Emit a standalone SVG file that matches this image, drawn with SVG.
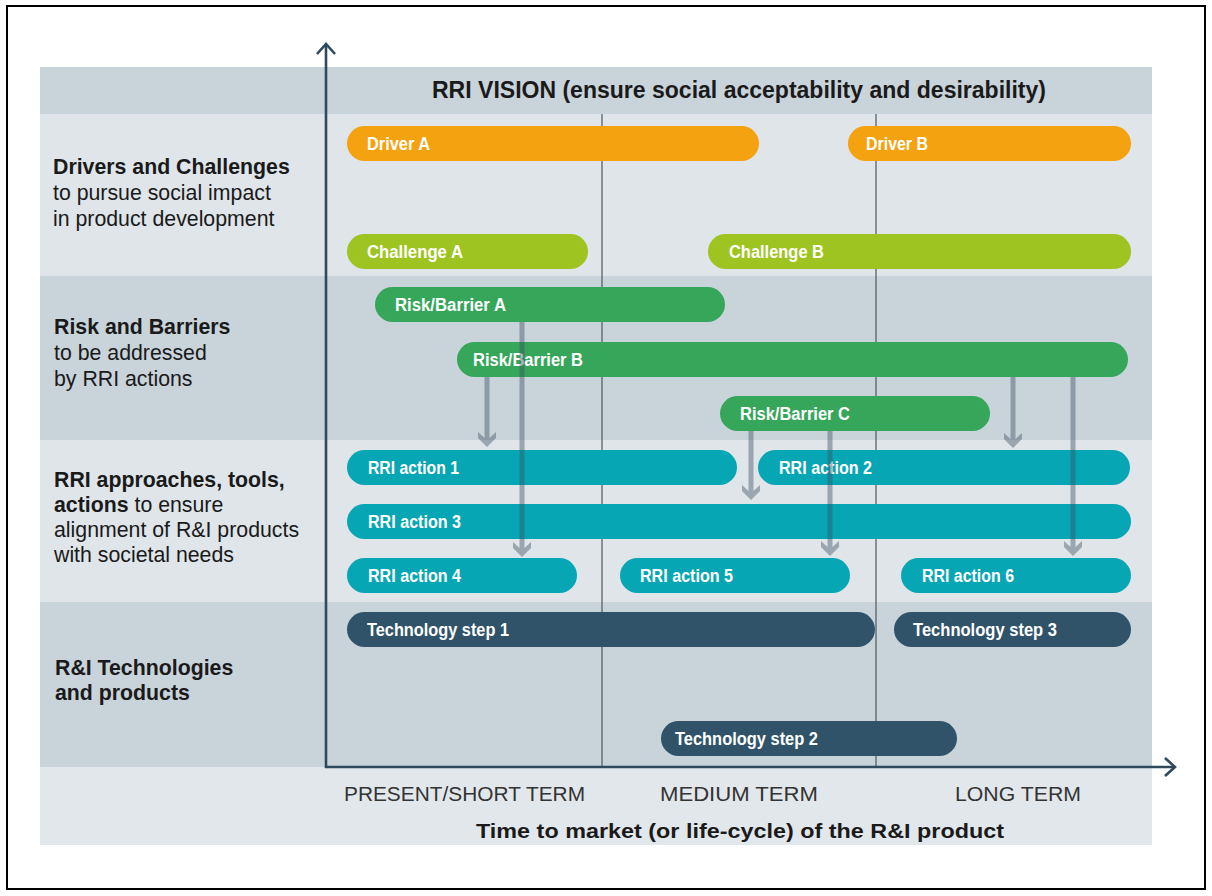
<svg xmlns="http://www.w3.org/2000/svg" width="1212" height="896" viewBox="0 0 1212 896">
<defs>
<style>
.bandD{fill:#c9d3da}
.bandL{fill:#dfe5e9}
.bar text{font-family:"Liberation Sans",Arial,sans-serif;font-weight:bold;font-size:18px;fill:#ffffff}
.drv{fill:#f4a20f}
.chl{fill:#9ec421}
.rsk{fill:#35a65a}
.rri{fill:#07a6b4}
.tec{fill:#30536a}
.lbl{font-family:"Liberation Sans",Arial,sans-serif;font-size:21.3px;fill:#1a1a1a}
.b{font-weight:bold}
.term{font-family:"Liberation Sans",Arial,sans-serif;font-size:20px;fill:#333333}
.div{stroke:#4d5861;stroke-width:1.2}
.axis{stroke:#2f4a5c;stroke-width:2.6;fill:none}
.arr{fill:#394f5f;fill-opacity:0.42}
</style>
</defs>
<rect x="0" y="0" width="1212" height="896" fill="#ffffff"/>
<rect x="7" y="6" width="1198" height="883" fill="none" stroke="#000000" stroke-width="2"/>

<g id="bands">
<rect class="bandD" x="40" y="67" width="1112" height="47"/>
<rect class="bandL" x="40" y="114" width="1112" height="162"/>
<rect class="bandD" x="40" y="276" width="1112" height="164"/>
<rect class="bandL" x="40" y="440" width="1112" height="162"/>
<rect class="bandD" x="40" y="602" width="1112" height="165"/>
<rect fill="#e2e7eb" x="40" y="767" width="1112" height="78"/>
</g>

<g id="dividers">
<line class="div" x1="602" y1="114" x2="602" y2="767"/>
<line class="div" x1="876" y1="114" x2="876" y2="767"/>
</g>

<g id="title">
<text class="lbl b" x="432" y="98" style="font-size:23px" textLength="614" lengthAdjust="spacingAndGlyphs">RRI VISION (ensure social acceptability and desirability)</text>
</g>

<g id="row-labels">
<text class="lbl b" x="53" y="174">Drivers and Challenges</text>
<text class="lbl" x="53" y="200">to pursue social impact</text>
<text class="lbl" x="53" y="226">in product development</text>
<text class="lbl b" x="54" y="334">Risk and Barriers</text>
<text class="lbl" x="54" y="360">to be addressed</text>
<text class="lbl" x="54" y="386">by RRI actions</text>
<text class="lbl b" x="54" y="487">RRI approaches, tools,</text>
<text class="lbl" x="54" y="512"><tspan class="b">actions</tspan> to ensure</text>
<text class="lbl" x="54" y="537">alignment of R&amp;I products</text>
<text class="lbl" x="54" y="562">with societal needs</text>
<text class="lbl b" x="55" y="675">R&amp;I Technologies</text>
<text class="lbl b" x="55" y="700">and products</text>
</g>

<g id="driver-a" class="bar"><rect class="drv" x="347" y="126" width="412" height="35" rx="17.5"/><text x="367" y="150" textLength="63" lengthAdjust="spacingAndGlyphs">Driver A</text></g>
<g id="driver-b" class="bar"><rect class="drv" x="848" y="126" width="283" height="35" rx="17.5"/><text x="866" y="150" textLength="62" lengthAdjust="spacingAndGlyphs">Driver B</text></g>
<g id="challenge-a" class="bar"><rect class="chl" x="347" y="234" width="241" height="35" rx="17.5"/><text x="367" y="258" textLength="96" lengthAdjust="spacingAndGlyphs">Challenge A</text></g>
<g id="challenge-b" class="bar"><rect class="chl" x="708" y="234" width="423" height="35" rx="17.5"/><text x="729" y="258" textLength="95" lengthAdjust="spacingAndGlyphs">Challenge B</text></g>
<g id="risk-a" class="bar"><rect class="rsk" x="375" y="287" width="350" height="35" rx="17.5"/><text x="395" y="311" textLength="111" lengthAdjust="spacingAndGlyphs">Risk/Barrier A</text></g>
<g id="risk-b" class="bar"><rect class="rsk" x="457" y="342" width="671" height="35" rx="17.5"/><text x="473" y="366" textLength="110" lengthAdjust="spacingAndGlyphs">Risk/Barrier B</text></g>
<g id="risk-c" class="bar"><rect class="rsk" x="720" y="396" width="270" height="35" rx="17.5"/><text x="740" y="420" textLength="110" lengthAdjust="spacingAndGlyphs">Risk/Barrier C</text></g>
<g id="rri-1" class="bar"><rect class="rri" x="347" y="450" width="390" height="35" rx="17.5"/><text x="368" y="474" textLength="91" lengthAdjust="spacingAndGlyphs">RRI action 1</text></g>
<g id="rri-2" class="bar"><rect class="rri" x="758" y="450" width="372" height="35" rx="17.5"/><text x="779" y="474" textLength="93" lengthAdjust="spacingAndGlyphs">RRI action 2</text></g>
<g id="rri-3" class="bar"><rect class="rri" x="347" y="504" width="784" height="35" rx="17.5"/><text x="368" y="528" textLength="93" lengthAdjust="spacingAndGlyphs">RRI action 3</text></g>
<g id="rri-4" class="bar"><rect class="rri" x="347" y="558" width="230" height="35" rx="17.5"/><text x="368" y="582" textLength="93" lengthAdjust="spacingAndGlyphs">RRI action 4</text></g>
<g id="rri-5" class="bar"><rect class="rri" x="620" y="558" width="230" height="35" rx="17.5"/><text x="640" y="582" textLength="93" lengthAdjust="spacingAndGlyphs">RRI action 5</text></g>
<g id="rri-6" class="bar"><rect class="rri" x="901" y="558" width="230" height="35" rx="17.5"/><text x="922" y="582" textLength="92" lengthAdjust="spacingAndGlyphs">RRI action 6</text></g>
<g id="tech-1" class="bar"><rect class="tec" x="347" y="612" width="528" height="35" rx="17.5"/><text x="367" y="636" textLength="142" lengthAdjust="spacingAndGlyphs">Technology step 1</text></g>
<g id="tech-3" class="bar"><rect class="tec" x="894" y="612" width="237" height="35" rx="17.5"/><text x="913" y="636" textLength="144" lengthAdjust="spacingAndGlyphs">Technology step 3</text></g>
<g id="tech-2" class="bar"><rect class="tec" x="661" y="721" width="296" height="35" rx="17.5"/><text x="675" y="745" textLength="143" lengthAdjust="spacingAndGlyphs">Technology step 2</text></g>

<g id="connectors">
<path class="arr" d="M519.5,322 H524.5 V548 L531,542 V548 L522,557 L513,548 V542 L519.5,548 Z"/>
<path class="arr" d="M484.5,377 H489.5 V438 L496,432 V438 L487,447 L478,438 V432 L484.5,438 Z"/>
<path class="arr" d="M748.5,431 H753.5 V491 L760,485 V491 L751,500 L742,491 V485 L748.5,491 Z"/>
<path class="arr" d="M827.5,431 H832.5 V547 L839,541 V547 L830,556 L821,547 V541 L827.5,547 Z"/>
<path class="arr" d="M1010.5,377 H1015.5 V439 L1022,433 V439 L1013,448 L1004,439 V433 L1010.5,439 Z"/>
<path class="arr" d="M1070.5,377 H1075.5 V547 L1082,541 V547 L1073,556 L1064,547 V541 L1070.5,547 Z"/>
</g>

<g id="axes">
<line class="axis" x1="326" y1="768" x2="326" y2="45"/>
<polyline class="axis" points="317,54 326,44 335,54"/>
<line class="axis" x1="325" y1="767" x2="1175" y2="767"/>
<polyline class="axis" points="1165,758 1175,767 1165,776"/>
</g>

<g id="axis-labels">
<text class="term" x="344" y="801" textLength="241" lengthAdjust="spacingAndGlyphs">PRESENT/SHORT TERM</text>
<text class="term" x="660" y="801" textLength="158" lengthAdjust="spacingAndGlyphs">MEDIUM TERM</text>
<text class="term" x="955" y="801" textLength="126" lengthAdjust="spacingAndGlyphs">LONG TERM</text>
<text class="lbl b" x="476" y="838" style="font-size:21px" textLength="528" lengthAdjust="spacingAndGlyphs">Time to market (or life-cycle) of the R&amp;I product</text>
</g>
</svg>
